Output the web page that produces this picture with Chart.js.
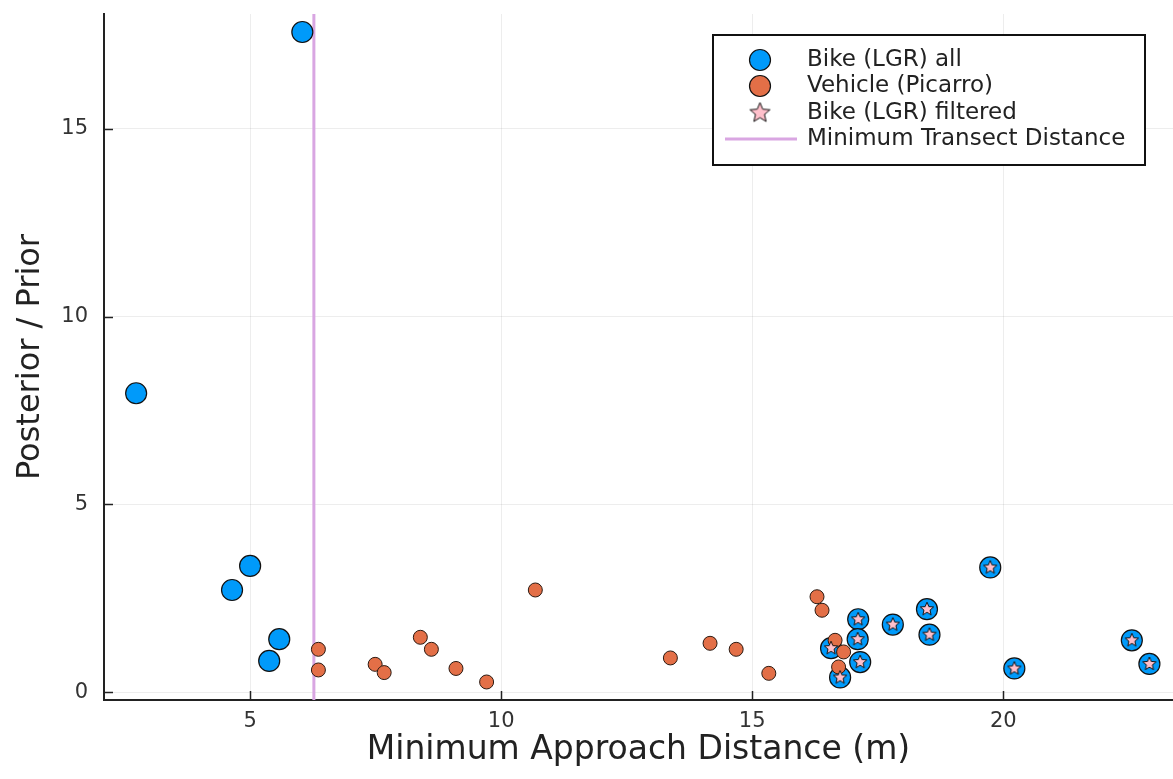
<!DOCTYPE html>
<html>
<head>
<meta charset="utf-8">
<script src="https://cdn.jsdelivr.net/npm/chart.js@4.4.1/dist/chart.umd.min.js"></script>
<style>
	body { margin: 0; background: #fff; overflow: hidden; }
	#wrap { width: 1173px; height: 779px; }
	canvas { display: block; }
</style>
</head>
<body>
<div id="wrap"><canvas id="chart" width="1173" height="779"></canvas></div>
<script>
// values
const bikeAllX = [6.04, 2.73, 5.00, 4.64, 5.58, 5.38, 17.11, 17.10, 17.15, 16.57, 16.75, 17.80, 18.48, 18.53, 19.74, 20.22, 22.56, 22.91];
const bikeAllY = [17.58, 7.96, 3.36, 2.72, 1.41, 0.83, 1.94, 1.41, 0.80, 1.17, 0.39, 1.80, 2.21, 1.53, 3.32, 0.63, 1.38, 0.75];

const vehicleX = [6.36, 6.36, 7.49, 7.67, 8.39, 8.61, 9.10, 9.71, 10.68, 13.37, 14.16, 14.68, 15.33, 16.29, 16.39, 16.65, 16.82, 16.72];
const vehicleY = [1.14, 0.59, 0.74, 0.52, 1.46, 1.14, 0.63, 0.27, 2.72, 0.91, 1.30, 1.14, 0.50, 2.54, 2.18, 1.38, 1.07, 0.67];

const filteredX = [17.11, 17.10, 17.15, 16.57, 16.75, 17.80, 18.48, 18.53, 19.74, 20.22, 22.56, 22.91];
const filteredY = [1.94, 1.41, 0.80, 1.17, 0.39, 1.80, 2.21, 1.53, 3.32, 0.63, 1.38, 0.75];

const minTransectDistance = 6.27;

const xLimits = [2.09, 23.38];
const yLimits = [-0.21, 18.06];
const xTicks = [5, 10, 15, 20];
const yTicks = [0, 5, 10, 15];

const seriesNames = ['Bike (LGR) all', 'Vehicle (Picarro)', 'Bike (LGR) filtered', 'Minimum Transect Distance'];

const BLUE = '#009AFA';
const ORANGE = '#E36F47';
const PINK = '#FFC0CB';
const PLUM = '#D9A6E2';

const toPoints = (xs, ys) => xs.map((x, i) => ({ x: x, y: ys[i] }));

// filled star marker (Chart.js' own 'star' is only strokes)
function makeStar(outer) {
	const c = document.createElement('canvas');
	const s = Math.ceil(outer * 2 + 4);
	c.width = s;
	c.height = s;
	const g = c.getContext('2d');
	const inner = outer * 0.45;
	g.beginPath();
	for (let i = 0; i < 10; i++) {
		const r = i % 2 === 0 ? outer : inner;
		const a = -Math.PI / 2 + (i * Math.PI) / 5;
		const px = s / 2 + r * Math.cos(a);
		const py = s / 2 + r * Math.sin(a);
		if (i === 0) g.moveTo(px, py);
		else g.lineTo(px, py);
	}
	g.closePath();
	g.fillStyle = PINK;
	g.fill();
	g.lineWidth = 1;
	g.strokeStyle = '#111';
	g.stroke();
	return c;
}
const starMarker = makeStar(7);
const starLegend = makeStar(10.5);

// inward ticks + legend box
const decor = {
	id: 'decor',
	afterDraw(chart) {
		const ctx = chart.ctx;
		const area = chart.chartArea;
		const xs = chart.scales.x;
		const ys = chart.scales.y;
		ctx.save();
		ctx.strokeStyle = '#222';
		ctx.lineWidth = 1.5;
		xTicks.forEach((t) => {
			const px = Math.round(xs.getPixelForValue(t)) + 0.5;
			ctx.beginPath();
			ctx.moveTo(px, area.bottom);
			ctx.lineTo(px, area.bottom - 9);
			ctx.stroke();
		});
		yTicks.forEach((t) => {
			const py = Math.round(ys.getPixelForValue(t)) + 0.5;
			ctx.beginPath();
			ctx.moveTo(area.left, py);
			ctx.lineTo(area.left + 9, py);
			ctx.stroke();
		});

		// legend
		const bx = 713, by = 35, bw = 432, bh = 130;
		ctx.fillStyle = '#fff';
		ctx.fillRect(bx, by, bw, bh);
		ctx.lineWidth = 2;
		ctx.strokeStyle = '#111';
		ctx.strokeRect(bx, by, bw, bh);

		const rows = [60, 86, 113, 139];
		const mx = 760;
		ctx.lineWidth = 1.2;
		ctx.beginPath();
		ctx.arc(mx, rows[0], 10.5, 0, Math.PI * 2);
		ctx.fillStyle = BLUE;
		ctx.fill();
		ctx.stroke();
		ctx.beginPath();
		ctx.arc(mx, rows[1], 10.5, 0, Math.PI * 2);
		ctx.fillStyle = ORANGE;
		ctx.fill();
		ctx.stroke();
		ctx.drawImage(starLegend, mx - starLegend.width / 2, rows[2] - starLegend.height / 2);
		ctx.beginPath();
		ctx.moveTo(725, rows[3]);
		ctx.lineTo(797, rows[3]);
		ctx.strokeStyle = PLUM;
		ctx.lineWidth = 3;
		ctx.stroke();

		ctx.fillStyle = '#222';
		ctx.font = '23px "DejaVu Sans"';
		ctx.textBaseline = 'middle';
		ctx.textAlign = 'left';
		seriesNames.forEach((n, i) => ctx.fillText(n, 807, rows[i]));
		ctx.restore();
	},
};

const ctx = document.getElementById('chart').getContext('2d');
Chart.defaults.font.family = '"DejaVu Sans", sans-serif';

new Chart(ctx, {
	type: 'scatter',
	data: {
		datasets: [
			{
				label: seriesNames[0],
				data: toPoints(bikeAllX, bikeAllY),
				backgroundColor: BLUE,
				borderColor: '#111',
				borderWidth: 1.2,
				pointRadius: 10.5,
				order: 3,
			},
			{
				label: seriesNames[1],
				data: toPoints(vehicleX, vehicleY),
				backgroundColor: ORANGE,
				borderColor: '#2a1a12',
				borderWidth: 1,
				pointRadius: 7,
				order: 2,
			},
			{
				label: seriesNames[2],
				data: toPoints(filteredX, filteredY),
				pointStyle: starMarker,
				order: 1,
			},
			{
				label: seriesNames[3],
				data: [
					{ x: minTransectDistance, y: yLimits[0] },
					{ x: minTransectDistance, y: yLimits[1] },
				],
				showLine: true,
				borderColor: PLUM,
				borderWidth: 3,
				pointRadius: 0,
				order: 4,
			},
		],
	},
	options: {
		responsive: false,
		animation: false,
		layout: { autoPadding: false, padding: { top: 14, right: 0, left: 0, bottom: 0 } },
		plugins: {
			legend: { display: false },
			tooltip: { enabled: false },
		},
		scales: {
			x: {
				type: 'linear',
				min: xLimits[0],
				max: xLimits[1],
				afterFit: (s) => {
					s.height = 79;
					s.paddingLeft = 0;
					s.paddingRight = 0;
				},
				grid: { color: 'rgba(0,0,0,0.07)', drawTicks: false },
				border: { display: true, color: '#222', width: 2 },
				ticks: {
					stepSize: 5,
					includeBounds: false,
					padding: 9,
					color: '#333',
					font: { size: 21 },
				},
				title: {
					display: true,
					text: 'Minimum Approach Distance (m)',
					color: '#222',
					font: { size: 33 },
					padding: { top: 0, bottom: 9 },
				},
			},
			y: {
				type: 'linear',
				min: yLimits[0],
				max: yLimits[1],
				afterFit: (s) => {
					s.width = 104;
					s.paddingTop = 0;
					s.paddingBottom = 0;
				},
				grid: { color: 'rgba(0,0,0,0.07)', drawTicks: false },
				border: { display: true, color: '#222', width: 2 },
				ticks: {
					stepSize: 5,
					includeBounds: false,
					padding: 16,
					color: '#333',
					font: { size: 21 },
				},
				title: {
					display: true,
					text: 'Posterior / Prior',
					color: '#222',
					font: { size: 32 },
					padding: { top: 11, bottom: 0 },
				},
			},
		},
	},
	plugins: [decor],
});
</script>
</body>
</html>
